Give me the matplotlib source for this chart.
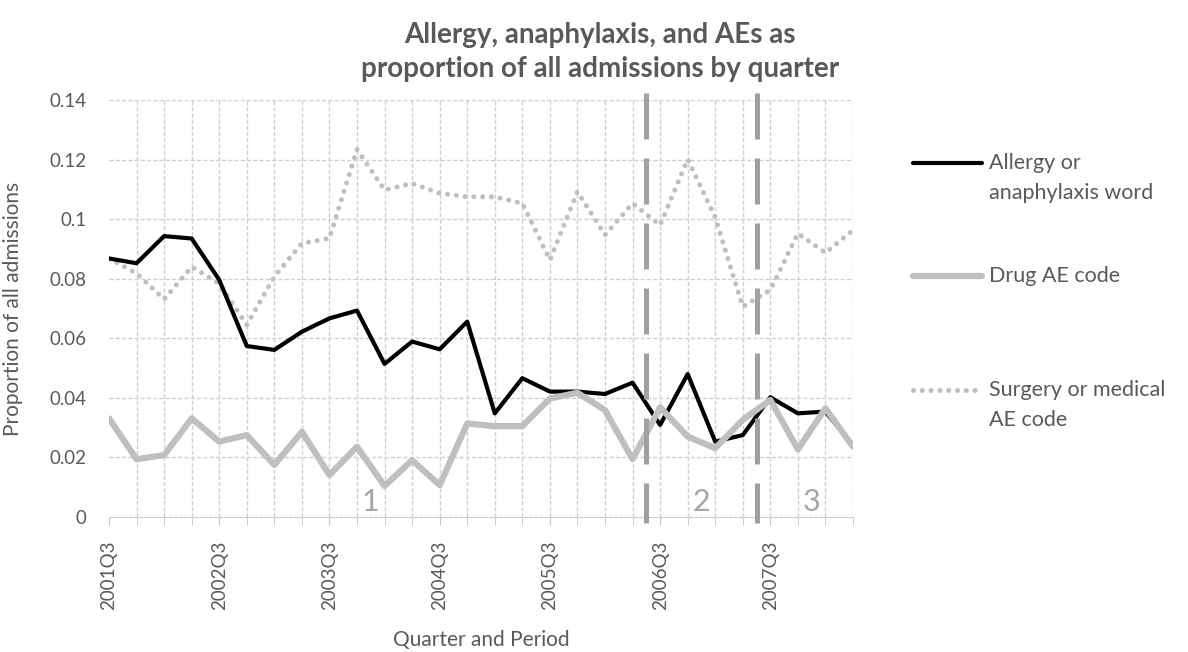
import matplotlib
matplotlib.use("Agg")
import matplotlib.pyplot as plt
from matplotlib.lines import Line2D

plt.rcParams["font.family"] = ["Lato", "DejaVu Sans"]

TEXT = "#595959"
GRID = "#d0d0d0"
W, H = 1188, 652

quarters = [f"{2001 + (i + 2) // 4}Q{(i + 2) % 4 + 1}" for i in range(28)]

allergy = [0.0868, 0.0852, 0.0943, 0.0935, 0.0796, 0.0574, 0.0561, 0.0622,
           0.0667, 0.0693, 0.0514, 0.0589, 0.0563, 0.0656, 0.0348, 0.0466,
           0.0421, 0.0421, 0.0413, 0.0451, 0.0309, 0.0480, 0.0253, 0.0275,
           0.0402, 0.0348, 0.0354, 0.0240]
drug_ae = [0.0331, 0.0194, 0.0208, 0.0331, 0.0253, 0.0275, 0.0175, 0.0286,
           0.0141, 0.0236, 0.0104, 0.0191, 0.0107, 0.0314, 0.0305, 0.0305,
           0.0398, 0.0417, 0.0359, 0.0194, 0.0368, 0.0270, 0.0231, 0.0326,
           0.0393, 0.0227, 0.0365, 0.0236]
surgery_ae = [0.0868, 0.0818, 0.0731, 0.0840, 0.0784, 0.0645, 0.0807, 0.0919,
              0.0936, 0.1234, 0.1098, 0.1120, 0.1087, 0.1075, 0.1075, 0.1053,
              0.0863, 0.1092, 0.0947, 0.1053, 0.0980, 0.1201, 0.1006, 0.0706,
              0.0762, 0.0952, 0.0887, 0.0963]

period_breaks = [19.5, 23.5]
period_labels = ["1", "2", "3"]
period_label_x = [9.5, 21.5, 25.5]

series_names = ["Allergy or\nanaphylaxis word", "Drug AE code", "Surgery or medical\nAE code"]

fig = plt.figure(figsize=(W / 100, H / 100), dpi=100)
ax = fig.add_axes([109 / W, 1 - 517 / H, (853 - 109) / W, (517 - 100) / H])

x = list(range(len(quarters)))

# grid
for v in x[1:]:
    ax.axvline(v, color=GRID, lw=1, ls=(0, (3, 1.5)), zorder=0)
for yv in [0.02 * k for k in range(1, 8)]:
    ax.axhline(yv, color=GRID, lw=1, ls=(0, (3, 1.5)), zorder=0)

sty_allergy = dict(color="black", lw=3, solid_capstyle="round")
sty_drug = dict(color="#bfbfbf", lw=4.5, solid_capstyle="round")
sty_surg = dict(color="#bfbfbf", lw=3.6, ls=(0, (0.01, 1.75)), dash_capstyle="round")

ax.plot(x, surgery_ae, zorder=2, **sty_surg)
ax.plot(x, allergy, zorder=3, **sty_allergy)
ax.plot(x, drug_ae, zorder=4, **sty_drug)

for b in period_breaks:
    ax.plot([b, b], [0.1424, -0.002], color="#a0a0a0", lw=3.6,
            ls=(0, (9.2, 3.8)), solid_capstyle="butt", clip_on=False, zorder=5)

for lx, lab in zip(period_label_x, period_labels):
    ax.text(lx, 0.0005, lab, color="#a6a6a6", fontsize=22, ha="center",
            va="bottom", zorder=6)

ax.set_xlim(0, len(quarters) - 1)
ax.set_ylim(0, 0.14)
ax.set_yticks([0.02 * k for k in range(8)])
ax.set_yticklabels(["0", "0.02", "0.04", "0.06", "0.08", "0.1", "0.12", "0.14"])
ax.set_xticks(x, minor=True)
ax.set_xticks(x[::4])
ax.set_xticklabels(quarters[::4], rotation=90)

for side in ["top", "right", "left"]:
    ax.spines[side].set_visible(False)
ax.spines["bottom"].set_color("#c8c8c8")
ax.spines["bottom"].set_linestyle((0, (3, 1.5)))
ax.tick_params(axis="y", length=0, labelsize=13.5, labelcolor=TEXT, pad=16)
ax.tick_params(axis="x", which="both", length=6, color="#c8c8c8",
               labelsize=13.5, labelcolor=TEXT, pad=11)

ax.set_ylabel("Proportion of all admissions", fontsize=15, color=TEXT, labelpad=8)
ax.yaxis.set_label_coords(-86 / 744, 0.5)
ax.set_xlabel("Quarter and Period", fontsize=15, color=TEXT)
ax.xaxis.set_label_coords(0.5, -(640 - 517) / 417)
ax.xaxis.label.set_va("center")

fig.text(600 / W, 1 - 52 / H,
         "Allergy, anaphylaxis, and AEs as\nproportion of all admissions by quarter",
         ha="center", va="center", fontsize=20, fontweight="bold", color=TEXT,
         linespacing=1.35)

# legend, laid out like the original Excel legend
legend_styles = [sty_allergy, sty_drug, sty_surg]
legend_handle_y = [163, 276, 390]
for name, sty, hy in zip(series_names, legend_styles, legend_handle_y):
    fy = 1 - hy / H
    fig.add_artist(Line2D([913 / W, 982 / W], [fy, fy], transform=fig.transFigure, **sty))
    fig.text(989 / W, fy + 10 / H, name, ha="left", va="top", fontsize=15.5,
             color=TEXT, linespacing=1.65)

fig.savefig("out.png", dpi=100)
